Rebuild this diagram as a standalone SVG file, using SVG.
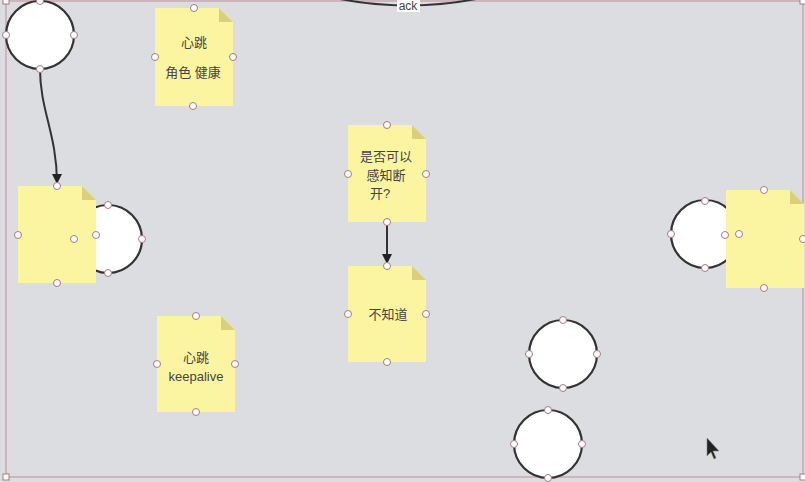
<svg xmlns="http://www.w3.org/2000/svg" width="805" height="482" viewBox="0 0 805 482">
<defs>
<style>
.bg{fill:#dcdde1}
.frame{fill:none;stroke:#c8a8b0;stroke-width:1.5}
.circ{fill:#ffffff;stroke:#333333;stroke-width:2.2}
.note{fill:#fbf5a2}
.fold{fill:#d8d07c}
.h{fill:#ffffff;stroke:#a8787e;stroke-width:1}
.sq{fill:#ffffff;stroke:#a8787e;stroke-width:1}
.t{font-family:"Liberation Sans","Noto Sans CJK SC",sans-serif;font-size:13px;fill:#444444;text-anchor:middle}
.edge{fill:none;stroke:#333333;stroke-width:2}
</style>
<marker id="arr" viewBox="0 0 10 10" refX="9" refY="5" markerWidth="5" markerHeight="6" orient="auto" markerUnits="strokeWidth">
<path d="M0,0 L10,5 L0,10 z" fill="#222222"/>
</marker>
</defs>
<rect class="bg" x="0" y="0" width="805" height="482"/>
<rect class="frame" x="6" y="1" width="797" height="476"/>

<g id="connectors">
<path class="edge" d="M340,-1 Q408,12 476,-1"/>
<rect x="397" y="0" width="23" height="12" fill="#ffffff"/>
<text class="t" x="408" y="10" style="font-size:12px">ack</text>
<path class="edge" d="M40,69 C40,110 57,135 57,183" marker-end="url(#arr)"/>
<path class="edge" d="M387,222 L387,263" marker-end="url(#arr)"/>
</g>

<g id="circle-top-left">
<circle class="circ" cx="40" cy="35" r="34"/>
<circle class="h" cx="40" cy="1" r="3.5"/><circle class="h" cx="6" cy="35" r="3.5"/><circle class="h" cx="74" cy="35" r="3.5"/><circle class="h" cx="40" cy="69" r="3.5"/>
</g>

<g id="note-heartbeat-role">
<path class="note" d="M155,8 H219 L233,22 V106 H155 Z"/>
<path class="fold" d="M219,8 L233,22 H219 Z"/>
<text class="t" x="194" y="47">心跳</text>
<text class="t" x="193" y="77">角色 健康</text>
<circle class="h" cx="194" cy="8" r="3.5"/><circle class="h" cx="155" cy="57" r="3.5"/><circle class="h" cx="233" cy="57" r="3.5"/><circle class="h" cx="193" cy="106" r="3.5"/>
</g>

<g id="circle-left">
<circle class="circ" cx="108" cy="239" r="34"/>
<circle class="h" cx="108" cy="205" r="3.5"/><circle class="h" cx="142" cy="239" r="3.5"/><circle class="h" cx="108" cy="273" r="3.5"/>
</g>

<g id="note-left">
<path class="note" d="M18,186 H82 L96,200 V283 H18 Z"/>
<path class="fold" d="M82,186 L96,200 H82 Z"/>
<circle class="h" cx="57" cy="186" r="3.5"/><circle class="h" cx="18" cy="235" r="3.5"/><circle class="h" cx="96" cy="235" r="3.5"/><circle class="h" cx="57" cy="283" r="3.5"/>
<circle class="h" cx="74" cy="239" r="3.5"/>
</g>

<g id="note-can-detect">
<path class="note" d="M348,125 H412 L426,139 V222 H348 Z"/>
<path class="fold" d="M412,125 L426,139 H412 Z"/>
<text class="t" x="386" y="161">是否可以</text>
<text class="t" x="386" y="180">感知断</text>
<text class="t" x="380" y="198">开?</text>
<circle class="h" cx="387" cy="125" r="3.5"/><circle class="h" cx="348" cy="174" r="3.5"/><circle class="h" cx="426" cy="174" r="3.5"/><circle class="h" cx="387" cy="222" r="3.5"/>
</g>

<g id="note-unknown">
<path class="note" d="M348,266 H412 L426,280 V362 H348 Z"/>
<path class="fold" d="M412,266 L426,280 H412 Z"/>
<text class="t" x="388" y="319">不知道</text>
<circle class="h" cx="387" cy="266" r="3.5"/><circle class="h" cx="348" cy="314" r="3.5"/><circle class="h" cx="426" cy="314" r="3.5"/><circle class="h" cx="387" cy="362" r="3.5"/>
</g>

<g id="note-keepalive">
<path class="note" d="M157,316 H221 L235,330 V412 H157 Z"/>
<path class="fold" d="M221,316 L235,330 H221 Z"/>
<text class="t" x="196" y="362">心跳</text>
<text class="t" x="196" y="381">keepalive</text>
<circle class="h" cx="196" cy="316" r="3.5"/><circle class="h" cx="157" cy="364" r="3.5"/><circle class="h" cx="235" cy="364" r="3.5"/><circle class="h" cx="196" cy="412" r="3.5"/>
</g>

<g id="circle-right">
<circle class="circ" cx="705" cy="234" r="34"/>
<circle class="h" cx="705" cy="201" r="3.5"/><circle class="h" cx="671" cy="234" r="3.5"/><circle class="h" cx="705" cy="268" r="3.5"/>
</g>

<g id="note-right">
<path class="note" d="M726,190 H790 L804,204 V288 H726 Z"/>
<path class="fold" d="M790,190 L804,204 H790 Z"/>
<circle class="h" cx="764" cy="190" r="3.5"/><circle class="h" cx="725" cy="235" r="3.5"/><circle class="h" cx="803" cy="239" r="3.5"/><circle class="h" cx="764" cy="288" r="3.5"/>
<circle class="h" cx="739" cy="234" r="3.5"/>
</g>

<g id="circle-bottom-1">
<circle class="circ" cx="563" cy="354" r="34"/>
<circle class="h" cx="563" cy="320" r="3.5"/><circle class="h" cx="529" cy="354" r="3.5"/><circle class="h" cx="597" cy="354" r="3.5"/><circle class="h" cx="563" cy="388" r="3.5"/>
</g>

<g id="circle-bottom-2">
<circle class="circ" cx="548" cy="444" r="34"/>
<circle class="h" cx="548" cy="410" r="3.5"/><circle class="h" cx="514" cy="444" r="3.5"/><circle class="h" cx="582" cy="444" r="3.5"/><circle class="h" cx="548" cy="478" r="3.5"/>
</g>

<rect class="sq" x="3" y="-2" width="6" height="6"/>
<rect class="sq" x="800" y="-2" width="6" height="6"/>
<rect class="sq" x="3" y="474" width="6" height="6"/>
<rect class="sq" x="800" y="474" width="6" height="6"/>
<path d="M707,438 L707,456 L711,452 L714,459 L716,458 L713,451 L719,451 Z" fill="#222222" stroke="#888888" stroke-width="0.6"/>
</svg>
